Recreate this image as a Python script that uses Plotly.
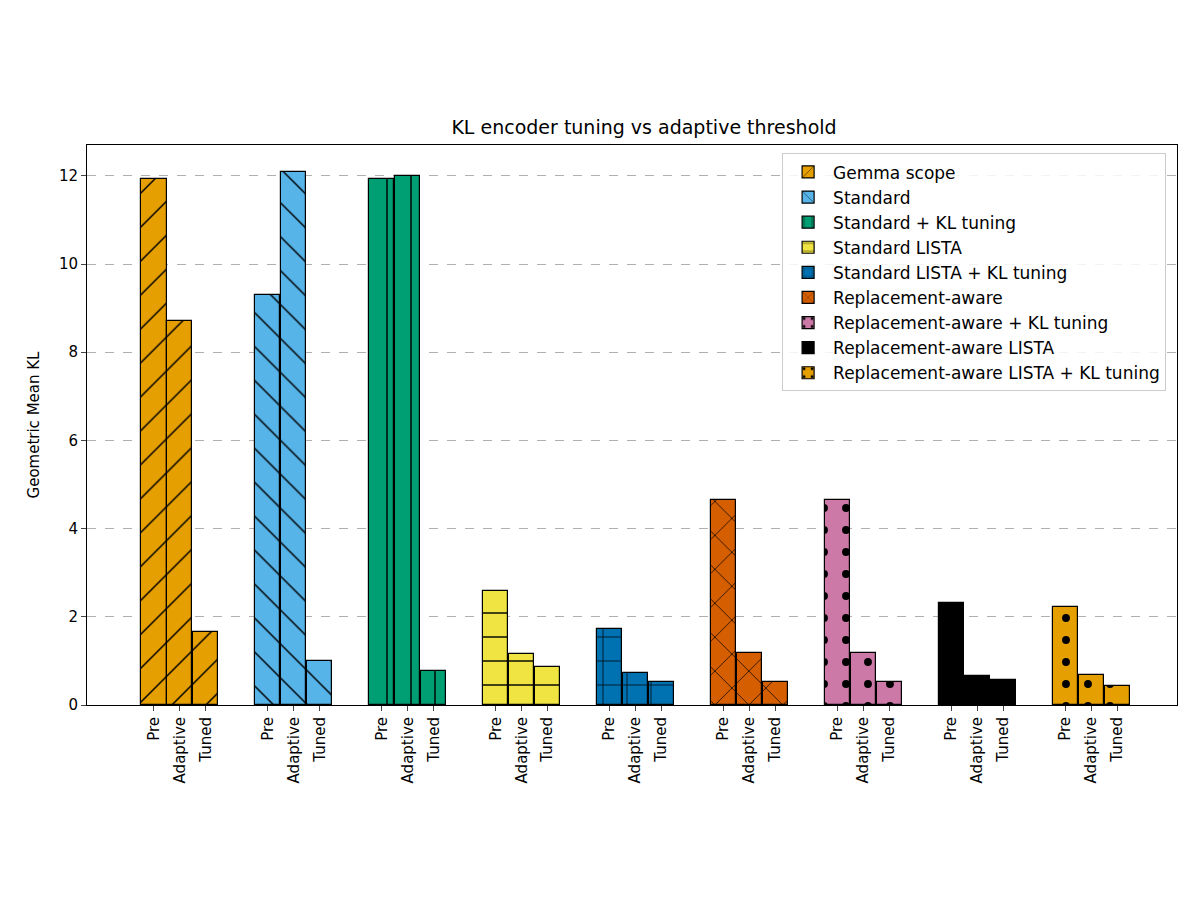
import plotly.graph_objects as go

# ---- data ----
methods = ["Gemma scope", "Standard", "Standard + KL tuning", "Standard LISTA",
           "Standard LISTA + KL tuning", "Replacement-aware",
           "Replacement-aware + KL tuning", "Replacement-aware LISTA",
           "Replacement-aware LISTA + KL tuning"]
stages = ["Pre", "Adaptive", "Tuned"]
pre      = [11.93, 9.30, 11.93, 2.58, 1.72, 4.64, 4.64, 2.31, 2.22]
adaptive = [8.72, 12.09, 12.00, 1.15, 0.72, 1.18, 1.18, 0.66, 0.68]
tuned    = [1.65, 1.00, 0.77, 0.86, 0.52, 0.52, 0.52, 0.57, 0.43]

colors = ["#E69F00", "#56B4E9", "#009E73", "#F0E442", "#0072B2",
          "#D55E00", "#CC79A7", "#000000", "#E69F00"]
hatches = ["/", "\\", "|", "-", "+", "x", ".", "", "."]

offset = 0.228
fig = go.Figure()
tickvals, ticktext = [], []
for i, m in enumerate(methods):
    xs = [i - offset, i, i + offset]
    vals = [pre[i], adaptive[i], tuned[i]]
    tickvals += xs
    ticktext += stages
    dot = hatches[i] == "."
    fig.add_trace(go.Bar(
        x=xs, y=vals, name=m, width=0.22,
        marker=dict(color=colors[i], line=dict(color="black", width=1.2),
                    pattern=dict(shape=hatches[i], fgcolor="black", fgopacity=1,
                                 size=24 if not dot else 22,
                                 solidity=0.06 if not dot else 0.1)),
    ))

fig.update_layout(
    width=1200, height=900,
    plot_bgcolor="white", paper_bgcolor="white",
    font=dict(family="DejaVu Sans", size=14, color="black"),
    title=dict(text="KL encoder tuning vs adaptive threshold", x=0.53, y=0.875,
               xanchor="center", font=dict(size=19)),
    margin=dict(l=79, r=31, t=137, b=203),
    bargap=0,
    legend=dict(x=0.99, y=0.985, xanchor="right", yanchor="top",
                bordercolor="#cccccc", borderwidth=1, bgcolor="rgba(255,255,255,0.85)",
                font=dict(size=17), tracegroupgap=5, itemwidth=40),
)
fig.update_xaxes(range=[-0.816, 8.754], tickvals=tickvals, ticktext=ticktext,
                 tickangle=-90, showline=True, linecolor="black", mirror=True,
                 ticks="outside", ticklen=5, showgrid=False, tickfont=dict(size=15))
fig.update_yaxes(range=[0, 12.7], dtick=2, showline=True, linecolor="black",
                 mirror=True, ticks="outside", ticklen=5, showgrid=True,
                 gridcolor="#b0b0b0", griddash="dash", zeroline=False,
                 title=dict(text="Geometric Mean KL", font=dict(size=15)),
                 tickfont=dict(size=15))

fig.write_html("out.html")
